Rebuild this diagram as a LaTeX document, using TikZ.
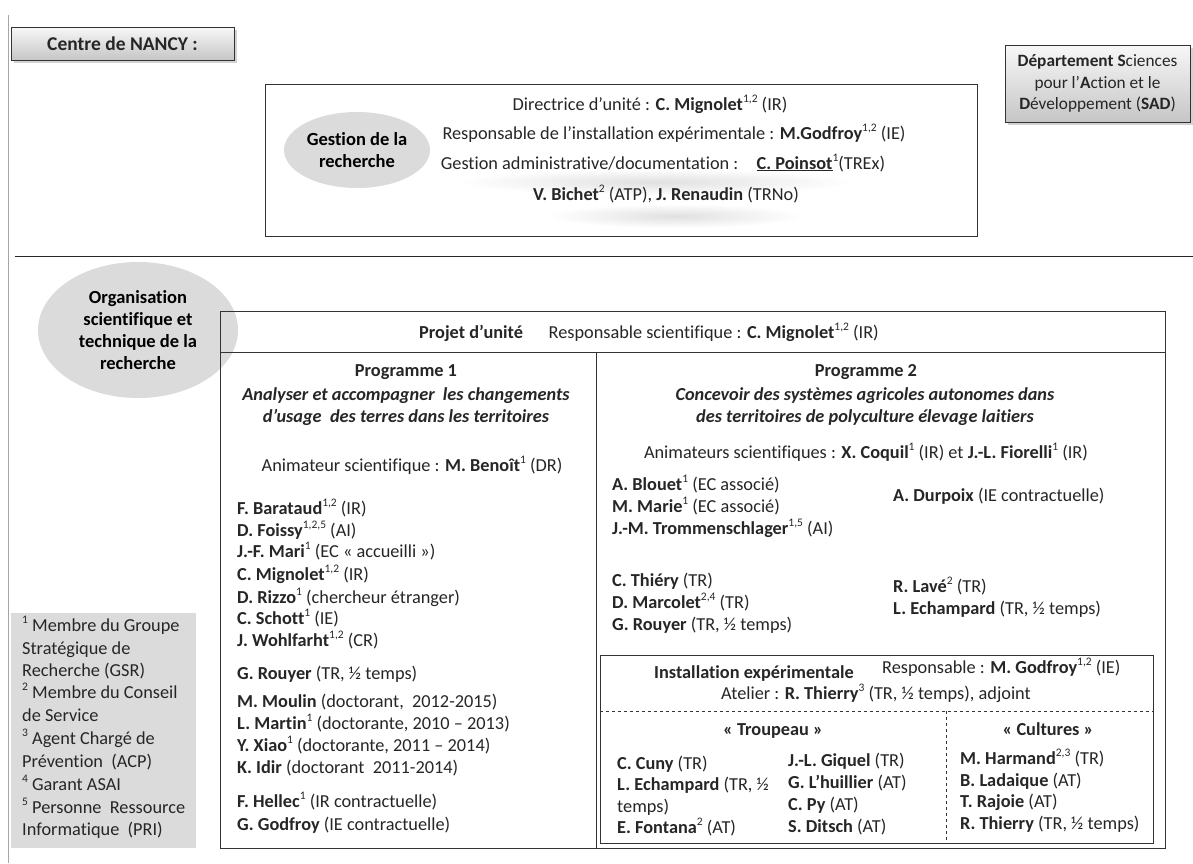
\documentclass[tikz,border=0pt]{standalone}
\usepackage{fontspec}
\setmainfont{Carlito}[Ligatures=NoCommon]
\usetikzlibrary{shadows,fadings,shapes.geometric}
\tikzfading[name=fuzz, inner color=transparent!70, outer color=transparent!100]
\newcommand{\sps}[1]{\raisebox{0.42em}{\fontsize{11.5}{11.5}\selectfont #1}}
\begin{document}
\begin{tikzpicture}[x=1pt,y=-1pt,
  every node/.style={font=\fontsize{18.3}{22}\selectfont, text=black!85},
  tl/.style={anchor=base west, inner sep=0pt},
  tc/.style={anchor=base, inner sep=0pt},
  boxline/.style={draw=black!80, line width=0.8pt},
  boxframe/.style={boxline, inner sep=0pt},
  graybtn/.style={draw=black!80, line width=0.8pt, top color=gray!6, bottom color=gray!45,
     drop shadow={shadow xshift=2.5pt, shadow yshift=-2.5pt, opacity=0.35}, inner sep=0pt, align=center},
  blob/.style={ellipse, fill=gray!28, inner sep=0pt, align=center, font=\fontsize{18.5}{22}\selectfont\bfseries, text=black}
]
\useasboundingbox (0,0) rectangle (1193,863);
\fill[white] (0,0) rectangle (1193,863);

% left rule and separator
\coordinate (v1) at (8,15); \coordinate (v2) at (8,863);
\draw[gray!70, line width=1pt] (v1) -- (v2);
\coordinate (h1) at (15,256); \coordinate (h2) at (1193,256);
\draw[black!85, line width=1pt] (h1) -- (h2);

% header boxes
\node[graybtn, minimum width=223pt, minimum height=33pt, font=\fontsize{19.5}{22}\selectfont] (nancy) at (122.5,43.5) {\textbf{Centre de NANCY :}};
\node[graybtn, minimum width=185pt, minimum height=77pt, font=\fontsize{17.3}{21.5}\selectfont] (sad) at (1097.5,83.5)
  {\textbf{Département S}ciences\\pour l’\textbf{A}ction et le\\\textbf{D}éveloppement (\textbf{SAD})};

% top box
\node[boxframe, minimum width=712pt, minimum height=152pt] (top) at (621,160) {};
\node[blob, minimum width=146pt, minimum height=76pt] (gest) at (357,150) {Gestion de la\\recherche};
\fill[black!40, path fading=fuzz] (655,182) ellipse (195pt and 13pt);
\fill[black!40, path fading=fuzz] (675,216) ellipse (125pt and 12pt);
\node[tc] (l1) at (650,110) {Directrice d’unité : \textbf{C. Mignolet}\sps{1,2} (IR)};
\node[tc] (l2) at (674,139) {Responsable de l’installation expérimentale : \textbf{M.Godfroy}\sps{1,2} (IE)};
\node[tc] (l3) at (663,169) {Gestion administrative/documentation :\quad\underline{\textbf{C. Poinsot}}\sps{1}(TREx)};
\node[tc] (l4) at (666,200) {\textbf{V. Bichet}\sps{2} (ATP), \textbf{J. Renaudin} (TRNo)};

% organisation ellipse and project box
\node[blob, minimum width=200pt, minimum height=136pt] (orga) at (138,330) {Organisation\\scientifique et\\technique de la\\recherche};
\node[boxframe, minimum width=945pt, minimum height=537pt] (proj) at (692.5,579.5) {};
\coordinate (ph1) at (220,352); \coordinate (ph2) at (1165,352);
\draw[boxline] (ph1) -- (ph2);
\coordinate (d1) at (596,352); \coordinate (d2) at (596,848);
\draw[boxline] (d1) -- (d2);
\node[tc] (ph) at (649,338) {\textbf{Projet d’unité}\hspace{1.4em}Responsable scientifique : \textbf{C. Mignolet}\sps{1,2} (IR)};

% Programme 1
\node[tc] (p1) at (406,376) {\textbf{Programme 1}};
\node[tc] (p1a) at (406,400) {\textbf{\itshape Analyser et accompagner\ \ les changements}};
\node[tc] (p1b) at (406,422) {\textbf{\itshape d’usage\ \ des terres dans les territoires}};
\node[tc] (p1c) at (412,471) {Animateur scientifique : \textbf{M. Benoît}\sps{1} (DR)};
\node[tl] (a1) at (237,514) {\textbf{F. Barataud}\sps{1,2} (IR)};
\node[tl] (a2) at (237,536) {\textbf{D. Foissy}\sps{1,2,5} (AI)};
\node[tl] (a3) at (237,557) {\textbf{J.-F. Mari}\sps{1} (EC « accueilli »)};
\node[tl] (a4) at (237,580) {\textbf{C. Mignolet}\sps{1,2} (IR)};
\node[tl] (a5) at (237,603) {\textbf{D. Rizzo}\sps{1} (chercheur étranger)};
\node[tl] (a6) at (237,624) {\textbf{C. Schott}\sps{1} (IE)};
\node[tl] (a7) at (237,646) {\textbf{J. Wohlfarht}\sps{1,2} (CR)};
\node[tl] (a8) at (237,679) {\textbf{G. Rouyer} (TR, ½ temps)};
\node[tl] (a9) at (237,707) {\textbf{M. Moulin} (doctorant,\ \ 2012-2015)};
\node[tl] (a10) at (237,729) {\textbf{L. Martin}\sps{1} (doctorante, 2010 – 2013)};
\node[tl] (a11) at (237,751) {\textbf{Y. Xiao}\sps{1} (doctorante, 2011 – 2014)};
\node[tl] (a12) at (237,773) {\textbf{K. Idir} (doctorant\ \ 2011-2014)};
\node[tl] (a13) at (237,807) {\textbf{F. Hellec}\sps{1} (IR contractuelle)};
\node[tl] (a14) at (237,830) {\textbf{G. Godfroy} (IE contractuelle)};

% Programme 2
\node[tc] (p2) at (866,376) {\textbf{Programme 2}};
\node[tc] (p2a) at (865,400) {\textbf{\itshape Concevoir des systèmes agricoles autonomes\ dans}};
\node[tc] (p2b) at (865,422) {\textbf{\itshape des territoires de polyculture élevage laitiers}};
\node[tc] (p2c) at (866,458) {Animateurs scientifiques : \textbf{X. Coquil}\sps{1} (IR) et \textbf{J.-L. Fiorelli}\sps{1} (IR)};
\node[tl] (b1) at (612,490) {\textbf{A. Blouet}\sps{1} (EC associé)};
\node[tl] (b2) at (612,512) {\textbf{M. Marie}\sps{1} (EC associé)};
\node[tl] (b3) at (612,534) {\textbf{J.-M. Trommenschlager}\sps{1,5} (AI)};
\node[tl] (b4) at (893,501) {\textbf{A. Durpoix} (IE contractuelle)};
\node[tl] (b5) at (612,586) {\textbf{C. Thiéry} (TR)};
\node[tl] (b6) at (612,608) {\textbf{D. Marcolet}\sps{2,4} (TR)};
\node[tl] (b7) at (612,630) {\textbf{G. Rouyer} (TR, ½ temps)};
\node[tl] (b8) at (893,592) {\textbf{R. Lavé}\sps{2} (TR)};
\node[tl] (b9) at (893,614) {\textbf{L. Echampard} (TR, ½ temps)};

% Installation expérimentale
\node[boxframe, minimum width=553pt, minimum height=188pt] (inst) at (876.5,749) {};
\node[tl] (i1) at (654,678) {\textbf{Installation expérimentale}};
\node[tl] (i2) at (882,673) {Responsable : \textbf{M. Godfroy}\sps{1,2} (IE)};
\node[tc] (i3) at (876,699) {Atelier : \textbf{R. Thierry}\sps{3} (TR, ½ temps), adjoint};
\coordinate (s1) at (600,711); \coordinate (s2) at (1153,711);
\draw[black!80, line width=0.8pt, dashed] (s1) -- (s2);
\coordinate (s3) at (946,711); \coordinate (s4) at (946,843);
\draw[black!80, line width=0.8pt, dashed] (s3) -- (s4);
\node[tc] (tr) at (773,735) {\textbf{« Troupeau »}};
\node[tc] (cu) at (1048,735) {\textbf{« Cultures »}};
\node[tl] (c1) at (617,769) {\textbf{C. Cuny} (TR)};
\node[tl] (c2) at (617,790) {\textbf{L. Echampard} (TR, ½};
\node[tl] (c3) at (617,812) {temps)};
\node[tl] (c4) at (617,833) {\textbf{E. Fontana}\sps{2} (AT)};
\node[tl] (c5) at (788,766) {\textbf{J.-L. Giquel} (TR)};
\node[tl] (c6) at (788,788) {\textbf{G. L’huillier} (AT)};
\node[tl] (c7) at (788,810) {\textbf{C. Py} (AT)};
\node[tl] (c8) at (788,832) {\textbf{S. Ditsch} (AT)};
\node[tl] (c9) at (960,764) {\textbf{M. Harmand}\sps{2,3} (TR)};
\node[tl] (c10) at (960,786) {\textbf{B. Ladaique} (AT)};
\node[tl] (c11) at (960,807) {\textbf{T. Rajoie} (AT)};
\node[tl] (c12) at (960,829) {\textbf{R. Thierry} (TR, ½ temps)};

% footnotes
\node[fill=gray!28, minimum width=185pt, minimum height=235pt, inner sep=0pt] (foot) at (103.5,730.5) {};
\node[tl] (f1) at (22,631) {\sps{1} Membre du Groupe};
\node[tl] (f2) at (22,654) {Stratégique de};
\node[tl] (f3) at (22,676) {Recherche (GSR)};
\node[tl] (f4) at (22,698) {\sps{2} Membre du Conseil};
\node[tl] (f5) at (22,721) {de Service};
\node[tl] (f6) at (22,744) {\sps{3} Agent Chargé de};
\node[tl] (f7) at (22,767) {Prévention\ \ (ACP)};
\node[tl] (f8) at (22,790) {\sps{4} Garant ASAI};
\node[tl] (f9) at (22,813) {\sps{5} Personne\ \ Ressource};
\node[tl] (f10) at (22,835) {Informatique\ \ (PRI)};
\end{tikzpicture}
\end{document}
